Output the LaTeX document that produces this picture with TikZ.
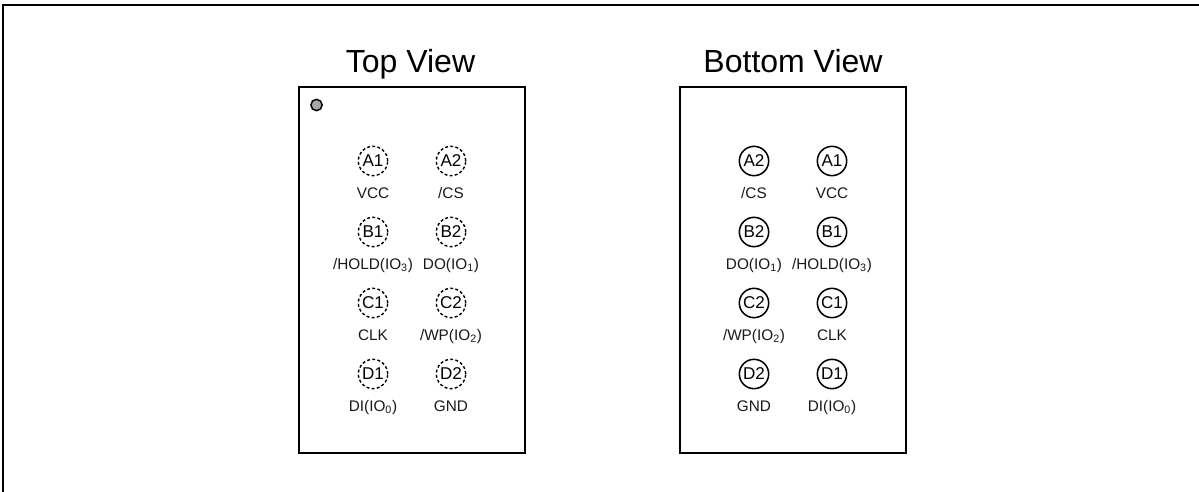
\documentclass[tikz,border=0pt]{standalone}
\usepackage{fontspec}
\setmainfont{Liberation Sans}
\tikzset{
  x=0.75pt,y=-0.75pt,
  frameline/.style={line width=1.6pt,black},
  pkg/.style={draw=black,line width=2.2pt,fill=white,minimum width=169.5pt,minimum height=274.5pt,inner sep=0pt},
  ballbase/.style={circle,minimum size=22pt,inner sep=0pt,font=\fontsize{12.8pt}{13pt}\selectfont},
  ballhid/.style={ballbase,draw=black,line width=1.05pt,dash pattern=on 2.2pt off 1.7pt},
  ballvis/.style={ballbase,draw=black,line width=1.15pt},
  pinlabel/.style={inner sep=0pt,anchor=base,font=\fontsize{11.5pt}{12pt}\selectfont,text=black!90},
  viewtitle/.style={inner sep=0pt,anchor=base,font=\fontsize{24pt}{25pt}\selectfont},
  dotmark/.style={circle,draw=black,line width=1.1pt,fill=black!35,minimum size=8.5pt,inner sep=0pt}
}
\newcommand{\io}[1]{IO\textsubscript{#1}}
\begin{document}
\begin{tikzpicture}
\useasboundingbox (0,0) rectangle (1199,492);
\fill[white] (0,0) rectangle (1199,492);
\coordinate (fbl) at (3,492);
\coordinate (ftl) at (3,5);
\coordinate (ftr) at (1199,5);
\draw[frameline] (fbl) -- (ftl) -- (ftr);
\node[pkg] (top) at (412,270) {};
\node[pkg] (bot) at (793,270) {};
\node[viewtitle] (toptitle) at (410.5,73) {Top View};
\node[viewtitle] (bottitle) at (793,73) {Bottom View};
\node[dotmark] (dot) at (316.5,105) {};
% top view
\node[ballhid] (ta1) at (373,161) {A1};
\node[ballhid] (ta2) at (451,161) {A2};
\node[ballhid] (tb1) at (373,232) {B1};
\node[ballhid] (tb2) at (451,232) {B2};
\node[ballhid] (tc1) at (373,303) {C1};
\node[ballhid] (tc2) at (451,303) {C2};
\node[ballhid] (td1) at (373,374) {D1};
\node[ballhid] (td2) at (451,374) {D2};
\node[pinlabel] (tla1) at (373,198) {VCC};
\node[pinlabel] (tla2) at (451,198) {/CS};
\node[pinlabel] (tlb1) at (373,269) {/HOLD(\io{3})};
\node[pinlabel] (tlb2) at (451,269) {DO(\io{1})};
\node[pinlabel] (tlc1) at (373,340) {CLK};
\node[pinlabel] (tlc2) at (451,340) {/WP(\io{2})};
\node[pinlabel] (tld1) at (373,411) {DI(\io{0})};
\node[pinlabel] (tld2) at (451,411) {GND};
% bottom view
\node[ballvis] (ba2) at (754,161) {A2};
\node[ballvis] (ba1) at (832,161) {A1};
\node[ballvis] (bb2) at (754,232) {B2};
\node[ballvis] (bb1) at (832,232) {B1};
\node[ballvis] (bc2) at (754,303) {C2};
\node[ballvis] (bc1) at (832,303) {C1};
\node[ballvis] (bd2) at (754,374) {D2};
\node[ballvis] (bd1) at (832,374) {D1};
\node[pinlabel] (bla2) at (754,198) {/CS};
\node[pinlabel] (bla1) at (832,198) {VCC};
\node[pinlabel] (blb2) at (754,269) {DO(\io{1})};
\node[pinlabel] (blb1) at (832,269) {/HOLD(\io{3})};
\node[pinlabel] (blc2) at (754,340) {/WP(\io{2})};
\node[pinlabel] (blc1) at (832,340) {CLK};
\node[pinlabel] (bld2) at (754,411) {GND};
\node[pinlabel] (bld1) at (832,411) {DI(\io{0})};
\end{tikzpicture}
\end{document}
